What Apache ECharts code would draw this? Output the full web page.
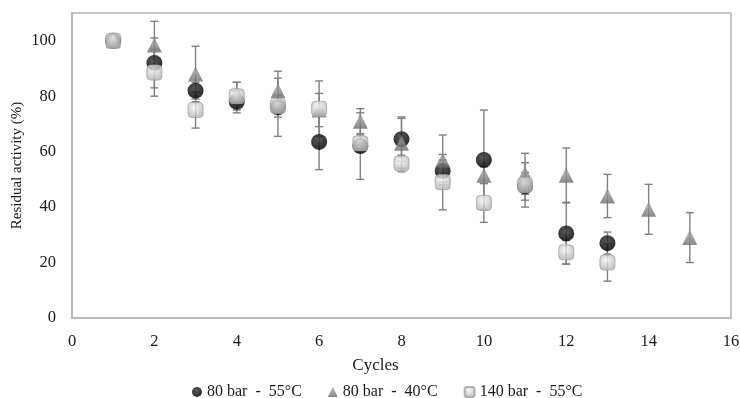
<!DOCTYPE html>
<html>
<head>
<meta charset="utf-8">
<script src="https://cdn.jsdelivr.net/npm/echarts@6/dist/echarts.min.js"></script>
<style>
  html, body { margin: 0; padding: 0; background: #fff; }
  #chart { width: 740px; height: 398px; }
</style>
</head>
<body>
<div id="chart"></div>
<script>
// cycles and residual activity (%) per condition, with error (+/-)
const cycles = [1, 2, 3, 4, 5, 6, 7, 8, 9, 10, 11, 12, 13, 14, 15];
const bar80t55 = [100, 92, 82, 78, 76, 63.5, 62, 64.5, 53, 57, 47.5, 30.5, 27, null, null];
const bar80t55Err = [0, 9, 3, 4, 10.5, 10, 12, 8, 4, 18, 5, 11, 4, null, null];
const bar80t40 = [100, 98.5, 88, 81, 82, 75, 71, 63, 57, 51.5, 52, 51.5, 44, 39.2, 29];
const bar80t40Err = [0, 8.5, 10, 4, 7, 6, 4.5, 9, 9, 3, 7.4, 9.8, 7.8, 9, 9];
const bar140t55 = [100, 88.5, 75, 80, 76.5, 75.5, 63, 55.7, 49, 41.5, 48, 23.7, 20, null, null];
const bar140t55Err = [0, 8.5, 6.5, 5, 4, 10, 3, 3, 10, 7, 8, 4.3, 6.7, null, null];
const xTicks = { min: 0, max: 16, step: 2 };
const yTicks = { min: 0, max: 110, step: 20 };

const chart = echarts.init(document.getElementById('chart'));
const font = 'Liberation Serif';
const errColor = '#808080';
const textColor = '#1a1a1a';

// pairs of [x, y] for the scatter series
const points = (vals) => cycles.map((c, i) => [c, vals[i]]).filter(p => p[1] != null);
// [x, low, high] for the error bars
const errs = (vals, e) => cycles
    .map((c, i) => vals[i] == null ? null : [c, vals[i] - e[i], vals[i] + e[i]])
    .filter(p => p);

const errorSeries = (vals, e, z) => ({
    type: 'custom',
    data: errs(vals, e),
    z: z,
    silent: true,
    renderItem: (params, api) => {
        const lo = api.coord([api.value(0), api.value(1)]);
        const hi = api.coord([api.value(0), api.value(2)]);
        const w = 4;
        const style = { stroke: errColor, lineWidth: 1.4 };
        return {
            type: 'group',
            children: [
                { type: 'line', shape: { x1: hi[0], y1: hi[1], x2: lo[0], y2: lo[1] }, style },
                { type: 'line', shape: { x1: hi[0] - w, y1: hi[1], x2: hi[0] + w, y2: hi[1] }, style },
                { type: 'line', shape: { x1: lo[0] - w, y1: lo[1], x2: lo[0] + w, y2: lo[1] }, style }
            ]
        };
    }
});

const radial = (c1, c2, r) => ({
    type: 'radial', x: 0.45, y: 0.35, r: r || 0.65,
    colorStops: [{ offset: 0, color: c1 }, { offset: 1, color: c2 }]
});

const option = {
    animation: false,
    grid: {
        left: 72, right: 9, top: 13, bottom: 80, outerBoundsMode: 'none',
        show: true, borderColor: '#b5b5b5', borderWidth: 1.5
    },
    xAxis: {
        type: 'value', min: xTicks.min, max: xTicks.max, interval: xTicks.step,
        name: 'Cycles', nameLocation: 'middle', nameGap: 39, nameMoveOverlap: false,
        nameTextStyle: { fontFamily: font, fontSize: 17, color: textColor, padding: [0, 52, 0, 0] },
        axisLine: { lineStyle: { color: '#b5b5b5', width: 1.5 } },
        axisTick: { show: false },
        splitLine: { show: false },
        axisLabel: { fontFamily: font, fontSize: 16.5, color: textColor, margin: 15 }
    },
    yAxis: {
        type: 'value', min: yTicks.min, max: yTicks.max, interval: yTicks.step,
        name: 'Residual activity (%)', nameLocation: 'middle', nameGap: 47, nameMoveOverlap: false,
        nameTextStyle: { fontFamily: font, fontSize: 15, color: textColor },
        axisLine: { show: true, lineStyle: { color: '#b5b5b5', width: 1.5 } },
        axisTick: { show: false },
        splitLine: { show: false },
        axisLabel: { fontFamily: font, fontSize: 16.5, color: textColor, margin: 16, showMaxLabel: false }
    },
    legend: {
        top: 379, left: 187, itemGap: 26, itemWidth: 10, itemHeight: 10,
        textStyle: { fontFamily: font, fontSize: 16, color: textColor },
        data: ['80 bar - 55°C', '80 bar - 40°C', '140 bar - 55°C'],
        formatter: (n) => n.replace(/ - /, '  -  ')
    },
    series: [
        errorSeries(bar80t55, bar80t55Err, 2),
        errorSeries(bar80t40, bar80t40Err, 2),
        errorSeries(bar140t55, bar140t55Err, 2),
        {
            name: '80 bar - 55°C', type: 'scatter', symbol: 'circle', symbolSize: 16, z: 3,
            itemStyle: { color: radial('#333333', '#000000', 0.5) },
            data: points(bar80t55)
        },
        {
            name: '80 bar - 40°C', type: 'scatter', symbol: 'triangle', symbolSize: [15, 15], z: 4,
            itemStyle: { color: radial('#9c9c9c', '#6e6e6e') },
            data: points(bar80t40)
        },
        {
            name: '140 bar - 55°C', type: 'scatter', symbol: 'roundRect', symbolSize: 15, z: 5,
            itemStyle: { color: radial('#f6f6f6', '#b0b0b0'), borderColor: '#a4a4a4', borderWidth: 1 },
            data: points(bar140t55)
        }
    ]
};
chart.setOption(option);
</script>
</body>
</html>
